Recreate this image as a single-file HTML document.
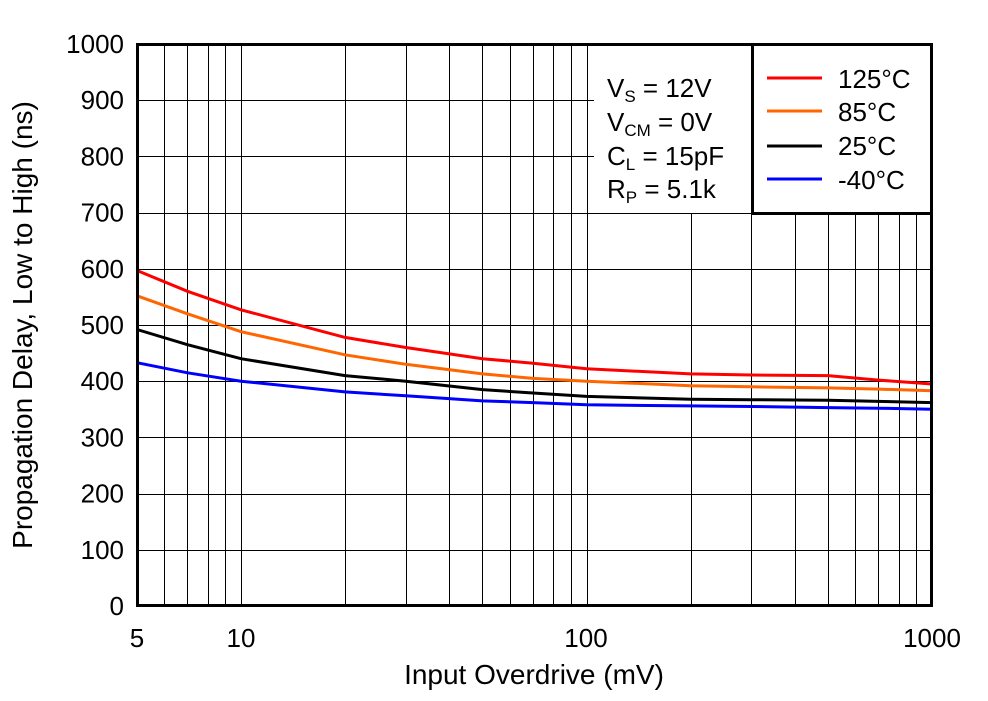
<!DOCTYPE html>
<html><head><style>
html,body{margin:0;padding:0;background:#fff}
svg{display:block}
text{font-family:"Liberation Sans",Arial,sans-serif;fill:#000}
</style></head><body>
<svg id="s" width="988" height="701" xmlns="http://www.w3.org/2000/svg">
<g id="grid" stroke="#000" stroke-width="1"></g>
<g id="curves" fill="none" stroke-width="3"></g>
<rect x="594" y="46" width="157" height="167" fill="#fff"/>
<rect x="752.5" y="44.5" width="179" height="169" fill="#fff" stroke="#000" stroke-width="3"/>
<rect x="137.5" y="44.5" width="794" height="561" fill="none" stroke="#000" stroke-width="3"/>
<g font-size="26">
<text x="607" y="97">V<tspan font-size="17" dy="5">S</tspan><tspan dy="-5"> = 12V</tspan></text>
<text x="607" y="131">V<tspan font-size="17" dy="5">CM</tspan><tspan dy="-5"> = 0V</tspan></text>
<text x="607" y="165">C<tspan font-size="17" dy="5">L</tspan><tspan dy="-5"> = 15pF</tspan></text>
<text x="607" y="198">R<tspan font-size="17" dy="5">P</tspan><tspan dy="-5"> = 5.1k</tspan></text>
<line x1="767" y1="78" x2="822" y2="78" stroke="#ff0000" stroke-width="3"/>
<line x1="767" y1="111" x2="822" y2="111" stroke="#ff6600" stroke-width="3"/>
<line x1="767" y1="146" x2="822" y2="146" stroke="#000" stroke-width="3"/>
<line x1="767" y1="179" x2="822" y2="179" stroke="#0000ff" stroke-width="3"/>
<text x="838" y="88">125°C</text>
<text x="838" y="121">85°C</text>
<text x="838" y="155">25°C</text>
<text x="838" y="189">-40°C</text>
</g>
<g font-size="26" text-anchor="end" id="yl"></g>
<g font-size="26" text-anchor="middle">
<text x="137" y="647">5</text>
<text x="241" y="647">10</text>
<text x="586" y="647">100</text>
<text x="932" y="647">1000</text>
</g>
<text font-size="28" text-anchor="middle" x="534" y="684">Input Overdrive (mV)</text>
<text font-size="28" text-anchor="middle" transform="translate(32,325) rotate(-90)">Propagation Delay, Low to High (ns)</text>
</svg>
<script>
var X0=137,X1=932,Y0=606,Y1=44;
function px(v){return X0+(Math.log10(v)-Math.log10(5))/(Math.log10(1000)-Math.log10(5))*(X1-X0);}
function py(v){return Y0-v/1000*(Y0-Y1);}
var g=document.getElementById('grid'),h='';
[6,7,8,9,10,20,30,40,50,60,70,80,90,100,200,300,400,500,600,700,800,900].forEach(function(v){var x=Math.round(px(v))+0.5;h+='<line x1="'+x+'" y1="44" x2="'+x+'" y2="606"/>';});
for(var i=1;i<10;i++){var y=Math.round(py(i*100))+0.5;h+='<line x1="137" y1="'+y+'" x2="932" y2="'+y+'"/>';}
g.innerHTML=h;
var yl='';for(var i=0;i<=10;i++){yl+='<text x="124" y="'+(py(i*100)+9)+'">'+(i*100)+'</text>';}
document.getElementById('yl').innerHTML=yl;
var xs=[5,7,10,20,30,50,70,100,200,300,500,700,1000];
var D={'#ff0000':[597,560,527,478,460,440,432,422,413,411,410,402,395],
'#ff6600':[552,520,488,447,430,413,405,400,392,390,388,386,383],
'#000000':[492,465,440,410,400,385,379,373,368,367,366,364,362],
'#0000ff':[433,415,400,381,374,365,362,358,356,355,353,352,350]};
var c='';for(var k in D){var d='';xs.forEach(function(x,i){d+=(i?'L':'M')+px(x).toFixed(1)+','+py(D[k][i]).toFixed(1);});c+='<path d="'+d+'" stroke="'+k+'"/>';}
document.getElementById('curves').innerHTML=c;
</script>
</body></html>
